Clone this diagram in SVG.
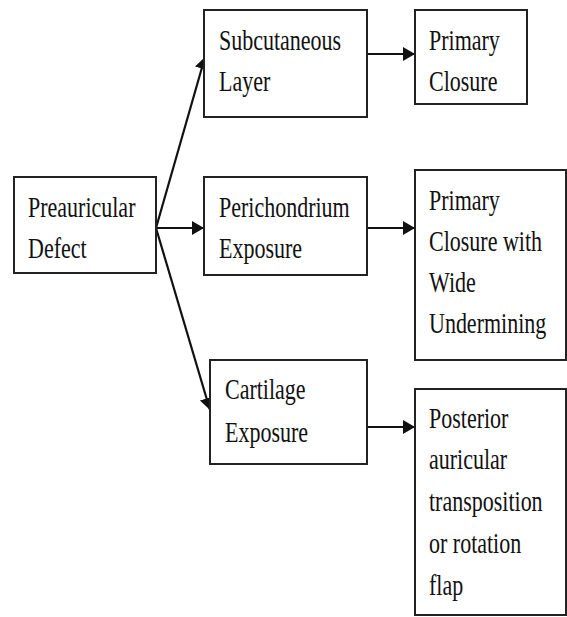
<svg xmlns="http://www.w3.org/2000/svg" width="567" height="617" viewBox="0 0 567 617">
<defs>
<style>
.box{fill:#fff;stroke:#222;stroke-width:2}
.conn{stroke:#111;stroke-width:2.2;fill:none;marker-end:url(#ah)}
text{font-family:'Liberation Serif','Times New Roman',serif;font-size:22px;fill:#111}
</style>
<marker id="ah" markerUnits="userSpaceOnUse" markerWidth="13" markerHeight="15" refX="12" refY="7" orient="auto" viewBox="0 0 13 15">
<path d="M0,0 L12,7 L0,14 z" fill="#111"/>
</marker>
</defs>
<rect width="567" height="617" fill="#fff"/>
<g id="connectors">
<line class="conn" x1="156" y1="228" x2="205" y2="57"/>
<line class="conn" x1="156" y1="228" x2="204" y2="228"/>
<line class="conn" x1="156" y1="228" x2="210" y2="410"/>
<line class="conn" x1="367" y1="54" x2="415" y2="54"/>
<line class="conn" x1="367" y1="228" x2="415" y2="228"/>
<line class="conn" x1="367" y1="427" x2="415" y2="427"/>
</g>
<g id="preauricular">
<rect class="box" x="14" y="177" width="142" height="96"/>
<text transform="translate(28,217) scale(1,1.36)">Preauricular</text>
<text transform="translate(28,258) scale(1,1.36)">Defect</text>
</g>
<g id="subcutaneous">
<rect class="box" x="204" y="10" width="163" height="107"/>
<text transform="translate(219,50) scale(1,1.36)">Subcutaneous</text>
<text transform="translate(219,91) scale(1,1.36)">Layer</text>
</g>
<g id="primary-closure">
<rect class="box" x="415" y="10" width="112" height="94"/>
<text transform="translate(429,50) scale(1,1.36)">Primary</text>
<text transform="translate(429,91) scale(1,1.36)">Closure</text>
</g>
<g id="perichondrium">
<rect class="box" x="204" y="177" width="163" height="98"/>
<text transform="translate(219,217) scale(1,1.36)">Perichondrium</text>
<text transform="translate(219,258) scale(1,1.36)">Exposure</text>
</g>
<g id="primary-closure-wide">
<rect class="box" x="415" y="170" width="151" height="190"/>
<text transform="translate(429,210) scale(1,1.36)">Primary</text>
<text transform="translate(429,251) scale(1,1.36)">Closure with</text>
<text transform="translate(429,292) scale(1,1.36)">Wide</text>
<text transform="translate(429,333) scale(1,1.36)">Undermining</text>
</g>
<g id="cartilage">
<rect class="box" x="210" y="360" width="157" height="104"/>
<text transform="translate(225,399) scale(1,1.36)">Cartilage</text>
<text transform="translate(225,442) scale(1,1.36)">Exposure</text>
</g>
<g id="posterior">
<rect class="box" x="415" y="389" width="151" height="226"/>
<text transform="translate(429,428) scale(1,1.36)">Posterior</text>
<text transform="translate(429,469) scale(1,1.36)">auricular</text>
<text transform="translate(429,511) scale(1,1.36)">transposition</text>
<text transform="translate(429,553) scale(1,1.36)">or rotation</text>
<text transform="translate(429,595) scale(1,1.36)">flap</text>
</g>
</svg>
